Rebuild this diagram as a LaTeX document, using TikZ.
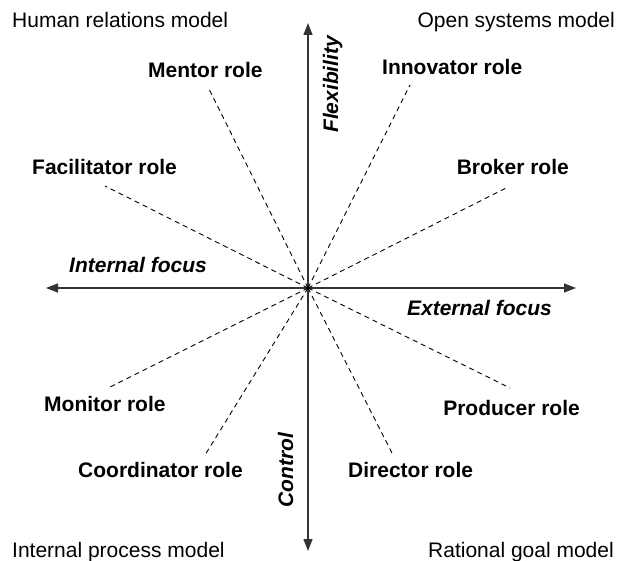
\documentclass[tikz,border=0pt]{standalone}
\usepackage{fontspec}
\setmainfont{Liberation Sans}
\usetikzlibrary{arrows.meta}
\tikzset{eaxis/.style={-{Triangle[length=12pt,width=9pt]},line width=1.4pt,black!80}}
\tikzset{espoke/.style={dash pattern=on 5pt off 4pt,line width=0.9pt}}
\tikzset{erole/.style={font=\fontsize{21}{25}\selectfont\bfseries,inner sep=0pt}}
\tikzset{efocus/.style={font=\fontsize{21}{25}\selectfont\bfseries\itshape,inner sep=0pt}}
\tikzset{emodel/.style={font=\fontsize{21}{25}\selectfont,inner sep=0pt}}

\begin{document}
\begin{tikzpicture}[x=1pt,y=-1pt]
            \useasboundingbox (0,0) rectangle (620,561);
            % centre and axis ends
            \coordinate (o) at (308,288);
            \coordinate (top) at (308,23);
            \coordinate (bottom) at (308,551);
            \coordinate (left) at (46,288);
            \coordinate (right) at (576,288);
            % draw the axis
            \draw[eaxis] (o) -- (top);
            \draw[eaxis] (o) -- (bottom);
            \draw[eaxis] (o) -- (left);
            \draw[eaxis] (o) -- (right);
            % ends of the role spokes
            \coordinate (mentor) at (208,87);
            \coordinate (innovator) at (410,85);
            \coordinate (facilitator) at (105,186);
            \coordinate (broker) at (508,187);
            \coordinate (monitor) at (108,388);
            \coordinate (producer) at (510,388);
            \coordinate (coordinator) at (205,455);
            \coordinate (director) at (393,455);
            % draw the spokes
            \foreach \r in {mentor,innovator,facilitator,broker,monitor,producer,coordinator,director}
                \draw[espoke] (o) -- (\r);

            % role labels
            \node[erole,anchor=base west] (mentorl) at (148,78) {Mentor role};
            \node[erole,anchor=base west] (innovatorl) at (382,75) {Innovator role};
            \node[erole,anchor=base west] (facilitatorl) at (32,175) {Facilitator role};
            \node[erole,anchor=base east] (brokerl) at (569,175) {Broker role};
            \node[erole,anchor=base west] (monitorl) at (44,411) {Monitor role};
            \node[erole,anchor=base east] (producerl) at (580,415) {Producer role};
            \node[erole,anchor=base west] (coordinatorl) at (78,477) {Coordinator role};
            \node[erole,anchor=base west] (directorl) at (348,477) {Director role};

            % axis labels
            \node[efocus,anchor=base west] (internal) at (69,272) {Internal focus};
            \node[efocus,anchor=base east] (external) at (552,315) {External focus};
            \node[efocus,rotate=90,anchor=base west] (flex) at (338,133) {Flexibility};
            \node[efocus,rotate=90,anchor=base] (control) at (293,470) {Control};

            % quadrant models
            \node[emodel,anchor=base west] (human) at (12,28) {Human relations model};
            \node[emodel,anchor=base east] (open) at (615,28) {Open systems model};
            \node[emodel,anchor=base west] (process) at (12,557) {Internal process model};
            \node[emodel,anchor=base east] (rational) at (614,557) {Rational goal model};
        \end{tikzpicture}
\end{document}
